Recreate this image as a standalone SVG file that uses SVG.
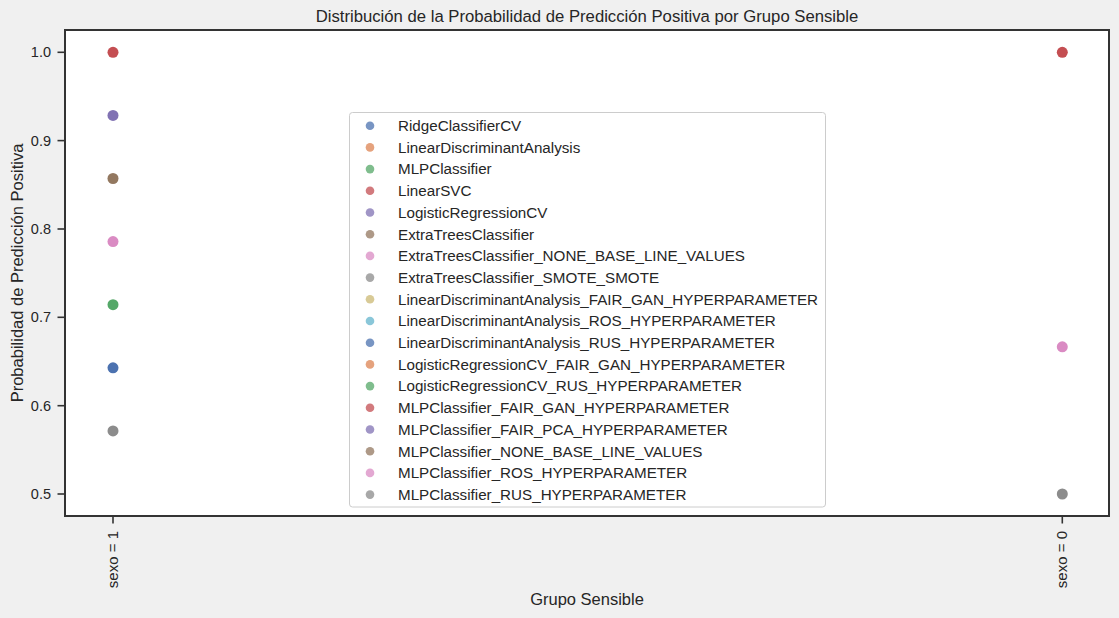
<svg xmlns="http://www.w3.org/2000/svg" width="1119" height="618" viewBox="0 0 1119 618">
<style>
text{font-family:"Liberation Sans",Arial,sans-serif;fill:#262626}
.t{font-size:14.5px}
.lab{font-size:16.5px}
.ttl{font-size:16.7px}
.tick{stroke:#333;stroke-width:1.6}
.lg{font-size:15.2px}
</style>
<rect x="0" y="0" width="1119" height="618" fill="#f0f0f0"/>
<rect id="plot-area" x="65" y="30" width="1044" height="486" fill="#ffffff"/>
<g id="points">
<circle cx="113" cy="52.3" r="5.5" fill="#c44e52"/>
<circle cx="113" cy="115.4" r="5.5" fill="#8172b3"/>
<circle cx="113" cy="178.5" r="5.5" fill="#937860"/>
<circle cx="113" cy="241.6" r="5.5" fill="#da8bc3"/>
<circle cx="113" cy="304.7" r="5.5" fill="#55a868"/>
<circle cx="113" cy="367.8" r="5.5" fill="#4c72b0"/>
<circle cx="113" cy="430.9" r="5.5" fill="#8c8c8c"/>
<circle cx="1062.3" cy="52.3" r="5.5" fill="#c44e52"/>
<circle cx="1062.3" cy="346.8" r="5.5" fill="#da8bc3"/>
<circle cx="1062.3" cy="494" r="5.5" fill="#8c8c8c"/>
</g>
<g id="axes">
<rect x="65" y="30" width="1044" height="486" fill="none" stroke="#333" stroke-width="2"/>
<line class="tick" x1="57.5" y1="52.3" x2="65" y2="52.3"/>
<line class="tick" x1="57.5" y1="140.6" x2="65" y2="140.6"/>
<line class="tick" x1="57.5" y1="229" x2="65" y2="229"/>
<line class="tick" x1="57.5" y1="317.3" x2="65" y2="317.3"/>
<line class="tick" x1="57.5" y1="405.7" x2="65" y2="405.7"/>
<line class="tick" x1="57.5" y1="494" x2="65" y2="494"/>
<line class="tick" x1="113" y1="516" x2="113" y2="523.5"/>
<line class="tick" x1="1062.3" y1="516" x2="1062.3" y2="523.5"/>
<g class="t" text-anchor="end">
<text x="51" y="57.3">1.0</text>
<text x="51" y="145.6">0.9</text>
<text x="51" y="234">0.8</text>
<text x="51" y="322.3">0.7</text>
<text x="51" y="410.7">0.6</text>
<text x="51" y="499">0.5</text>
</g>
<text class="t" style="font-size:15px" text-anchor="end" transform="translate(118,531) rotate(-90)">sexo = 1</text>
<text class="t" style="font-size:15px" text-anchor="end" transform="translate(1067.3,531) rotate(-90)">sexo = 0</text>
<text class="lab" text-anchor="middle" x="587" y="605">Grupo Sensible</text>
<text class="lab" text-anchor="middle" transform="translate(22.5,273) rotate(-90)">Probabilidad de Predicción Positiva</text>
<text class="ttl" text-anchor="middle" x="587" y="22">Distribución de la Probabilidad de Predicción Positiva por Grupo Sensible</text>
</g>
<g id="legend">
<rect x="349.5" y="112.5" width="476" height="394.5" rx="3" fill="#ffffff" fill-opacity="0.8" stroke="#cccccc" stroke-width="1"/>
<g opacity="0.75">
<circle cx="370" cy="125.7" r="4.3" fill="#4c72b0"/>
<circle cx="370" cy="147.4" r="4.3" fill="#dd8452"/>
<circle cx="370" cy="169.1" r="4.3" fill="#55a868"/>
<circle cx="370" cy="190.8" r="4.3" fill="#c44e52"/>
<circle cx="370" cy="212.5" r="4.3" fill="#8172b3"/>
<circle cx="370" cy="234.2" r="4.3" fill="#937860"/>
<circle cx="370" cy="255.9" r="4.3" fill="#da8bc3"/>
<circle cx="370" cy="277.6" r="4.3" fill="#8c8c8c"/>
<circle cx="370" cy="299.3" r="4.3" fill="#ccb974"/>
<circle cx="370" cy="321" r="4.3" fill="#64b5cd"/>
<circle cx="370" cy="342.7" r="4.3" fill="#4c72b0"/>
<circle cx="370" cy="364.4" r="4.3" fill="#dd8452"/>
<circle cx="370" cy="386.1" r="4.3" fill="#55a868"/>
<circle cx="370" cy="407.8" r="4.3" fill="#c44e52"/>
<circle cx="370" cy="429.5" r="4.3" fill="#8172b3"/>
<circle cx="370" cy="451.2" r="4.3" fill="#937860"/>
<circle cx="370" cy="472.9" r="4.3" fill="#da8bc3"/>
<circle cx="370" cy="494.6" r="4.3" fill="#8c8c8c"/>
</g>
<g class="lg">
<text x="398" y="131">RidgeClassifierCV</text>
<text x="398" y="152.7">LinearDiscriminantAnalysis</text>
<text x="398" y="174.4">MLPClassifier</text>
<text x="398" y="196.1">LinearSVC</text>
<text x="398" y="217.8">LogisticRegressionCV</text>
<text x="398" y="239.5">ExtraTreesClassifier</text>
<text x="398" y="261.2">ExtraTreesClassifier_NONE_BASE_LINE_VALUES</text>
<text x="398" y="282.9">ExtraTreesClassifier_SMOTE_SMOTE</text>
<text x="398" y="304.6">LinearDiscriminantAnalysis_FAIR_GAN_HYPERPARAMETER</text>
<text x="398" y="326.3">LinearDiscriminantAnalysis_ROS_HYPERPARAMETER</text>
<text x="398" y="348">LinearDiscriminantAnalysis_RUS_HYPERPARAMETER</text>
<text x="398" y="369.7">LogisticRegressionCV_FAIR_GAN_HYPERPARAMETER</text>
<text x="398" y="391.4">LogisticRegressionCV_RUS_HYPERPARAMETER</text>
<text x="398" y="413.1">MLPClassifier_FAIR_GAN_HYPERPARAMETER</text>
<text x="398" y="434.8">MLPClassifier_FAIR_PCA_HYPERPARAMETER</text>
<text x="398" y="456.5">MLPClassifier_NONE_BASE_LINE_VALUES</text>
<text x="398" y="478.2">MLPClassifier_ROS_HYPERPARAMETER</text>
<text x="398" y="499.9">MLPClassifier_RUS_HYPERPARAMETER</text>
</g>
</g>
</svg>
